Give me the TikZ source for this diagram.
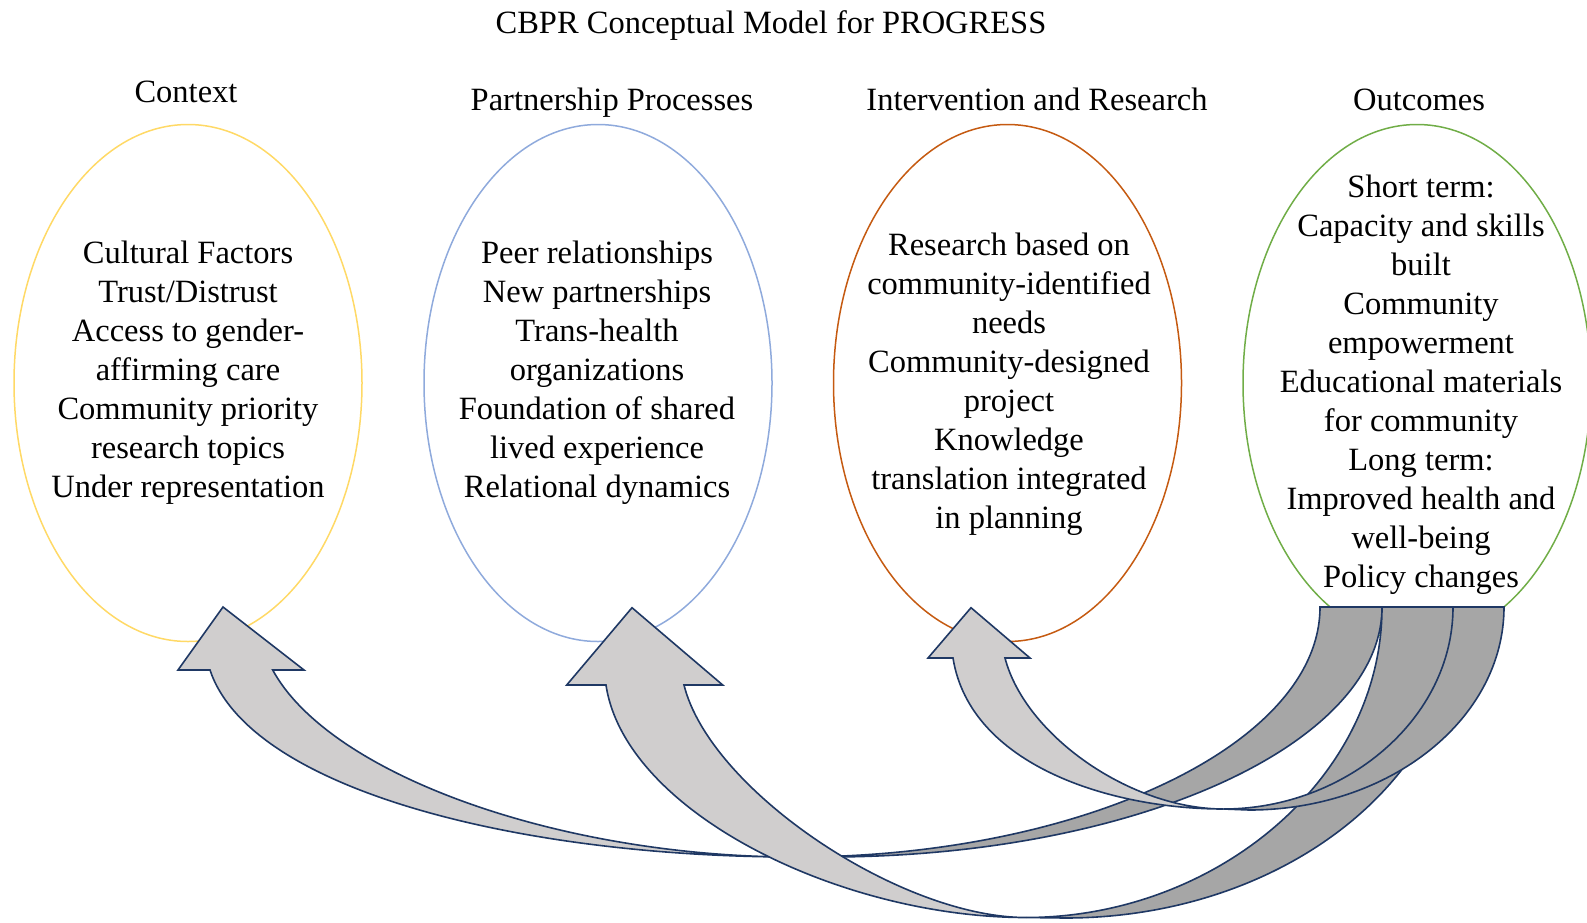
\documentclass[tikz,border=0pt]{standalone}
\usepackage{fontspec}
\setmainfont{Liberation Serif}
\usetikzlibrary{shapes.geometric}

\definecolor{ctxline}{HTML}{FFD966}
\definecolor{partline}{HTML}{8FAADC}
\definecolor{intline}{HTML}{C55A11}
\definecolor{outcline}{HTML}{70AD47}
\definecolor{bandfront}{HTML}{D0CECE}
\definecolor{bandback}{HTML}{A6A6A6}
\definecolor{bandedge}{HTML}{1F3864}

\begin{document}
\begin{tikzpicture}[x=1pt,y=-1pt,
  oval/.style={ellipse, draw, line width=1.5pt, minimum width=348pt,
               minimum height=517pt, inner sep=0pt},
  heading/.style={font=\fontsize{32.5}{39}\selectfont, inner sep=0pt, anchor=base},
  body/.style={font=\fontsize{32.5}{39}\selectfont, align=center, inner sep=0pt},
  front/.style={fill=bandfront, draw=bandedge, line width=1.6pt, line join=miter},
  back/.style={fill=bandback, draw=bandedge, line width=1.6pt, line join=miter}]

\useasboundingbox (0,0) rectangle (1587,922);
\clip (0,0) rectangle (1587,922);

% title and column headings
\node[heading] (title) at (771,33.5) {CBPR Conceptual Model for PROGRESS};
\node[heading] (hctx)  at (186,102)  {Context};
\node[heading] (hpart) at (612,110.5) {Partnership Processes};
\node[heading] (hint)  at (1037,110.5) {Intervention and Research};
\node[heading] (hout)  at (1419,110.5) {Outcomes};

% the four ovals
\node[oval, draw=ctxline]  (ctx)  at (188,383)  {};
\node[oval, draw=partline] (part) at (598,383)  {};
\node[oval, draw=intline]  (int)  at (1007.5,383) {};
\node[oval, draw=outcline] (out)  at (1417,383) {};

% oval contents
\node[body] (tctx) at (188,373) {Cultural Factors\\Trust/Distrust\\Access to gender-\\affirming care\\Community priority\\research topics\\Under representation};
\node[body] (tpart) at (597,373) {Peer relationships\\New partnerships\\Trans-health\\organizations\\Foundation of shared\\lived experience\\Relational dynamics};
\node[body] (tint) at (1009,384) {Research based on\\community-identified\\needs\\Community-designed\\project\\Knowledge\\translation integrated\\in planning};
\node[body] (tout) at (1421,385) {Short term:\\Capacity and skills\\built\\Community\\empowerment\\Educational materials\\for community\\Long term:\\Improved health and\\well-being\\Policy changes};

% curved arrow: Outcomes -> Context
\path[back] (796,857) .. controls (1080,857) and (1320,745) .. (1320,607)
  -- (1382,607) .. controls (1382,745) and (1133.5,857) .. (827,857) -- cycle;
\path[front] (796,857) .. controls (520,857) and (250,790) .. (210,670)
  -- (178,670) -- (223,607) -- (304,670) -- (272.7,670)
  .. controls (330,775) and (560,857) .. (796,857) -- cycle;

% curved arrow: Outcomes -> Partnership Processes
\path[back] (1026,917.5) .. controls (1215,917.5) and (1382,779) .. (1382,607)
  -- (1460,607) .. controls (1460,779) and (1283,918) .. (1065,918) -- cycle;
\path[front] (1026,917.5) .. controls (840,917.5) and (625,812) .. (606,685)
  -- (566.7,685) -- (632,607.7) -- (722.7,685) -- (684,685)
  .. controls (710,790) and (900,917.5) .. (1026,917.5) -- cycle;

% curved arrow: Outcomes -> Intervention and Research
\path[back] (1223.5,809) .. controls (1345,809) and (1453,719) .. (1453,607)
  -- (1504,607) .. controls (1504,719) and (1390,810) .. (1249,810) -- cycle;
\path[front] (1223.5,809) .. controls (1110,809) and (970,765) .. (953,658)
  -- (928,658) -- (971,607.7) -- (1030,658) -- (1005,658)
  .. controls (1025,735) and (1130,809) .. (1223.5,809) -- cycle;
\end{tikzpicture}
\end{document}
